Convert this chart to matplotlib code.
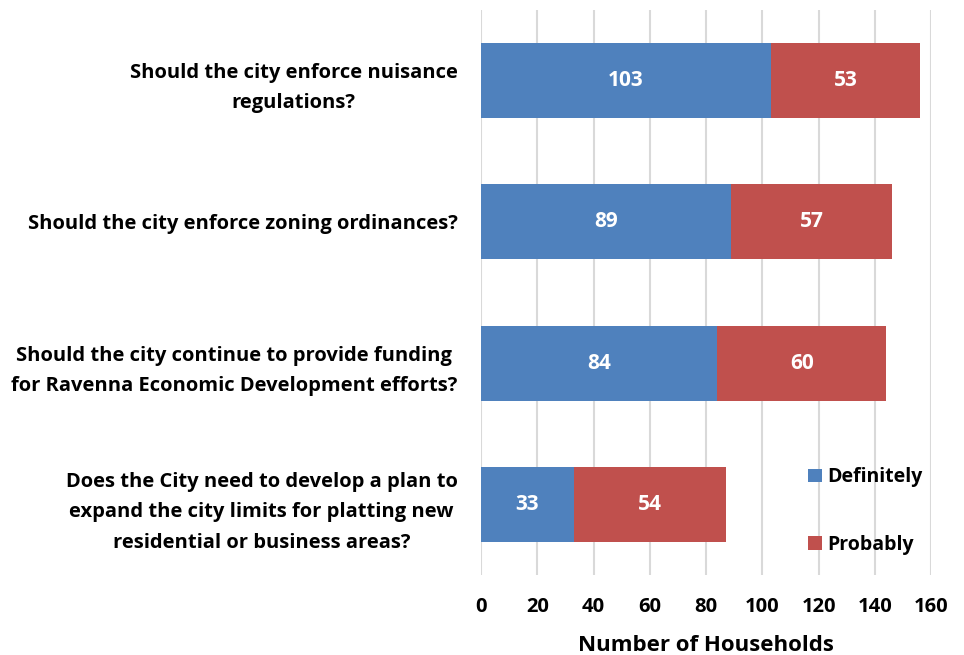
import matplotlib.pyplot as plt
import numpy as np

questions = [
    "Should the city enforce nuisance\nregulations?",
    "Should the city enforce zoning ordinances?",
    "Should the city continue to provide funding\nfor Ravenna Economic Development efforts?",
    "Does the City need to develop a plan to\nexpand the city limits for platting new\nresidential or business areas?",
]
definitely = [103, 89, 84, 33]
probably = [53, 57, 60, 54]
x_ticks = [0, 20, 40, 60, 80, 100, 120, 140, 160]

blue = '#4F81BD'
red = '#C0504D'

plt.rcParams['font.family'] = ['Open Sans', 'DejaVu Sans']
plt.rcParams['font.weight'] = 'bold'

fig = plt.figure(figsize=(9.64, 6.55), dpi=100)
ax = fig.add_axes([0.499, 0.122, 0.467, 0.863])

y = np.arange(len(questions))
h = 0.53
b1 = ax.barh(y, definitely, height=h, color=blue, label='Definitely', zorder=3)
b2 = ax.barh(y, probably, left=definitely, height=h, color=red, label='Probably', zorder=3)

# value labels centred in each segment
for vals, lefts in [(definitely, [0] * 4), (probably, definitely)]:
    for yi, v, l in zip(y, vals, lefts):
        ax.text(l + v / 2, yi, str(v), ha='center', va='center', color='white',
                fontsize=15, fontweight='bold', zorder=4)

ax.set_xlim(0, 160)
ax.set_ylim(3.5, -0.5)
ax.set_xticks(x_ticks)
ax.set_xticklabels([str(t) for t in x_ticks], fontsize=14.5, fontweight='bold')
ax.set_yticks(y)
ax.set_yticklabels(questions, fontsize=14.5, fontweight='bold',
                   multialignment='center', linespacing=1.7)
ax.tick_params(axis='y', length=0, pad=17)
ax.tick_params(axis='x', length=0, pad=16)
ax.grid(axis='x', color='#D9D9D9', linewidth=1.5, zorder=0)
for s in ax.spines.values():
    s.set_visible(False)

ax.set_xlabel('Number of Households', fontsize=16, fontweight='bold', labelpad=13)

ax.legend(loc='lower right', bbox_to_anchor=(1.02, 0.005), frameon=False, fontsize=14,
          handlelength=0.7, handleheight=0.7, handletextpad=0.3, labelspacing=2.45)

fig.savefig('out.png', dpi=100)
